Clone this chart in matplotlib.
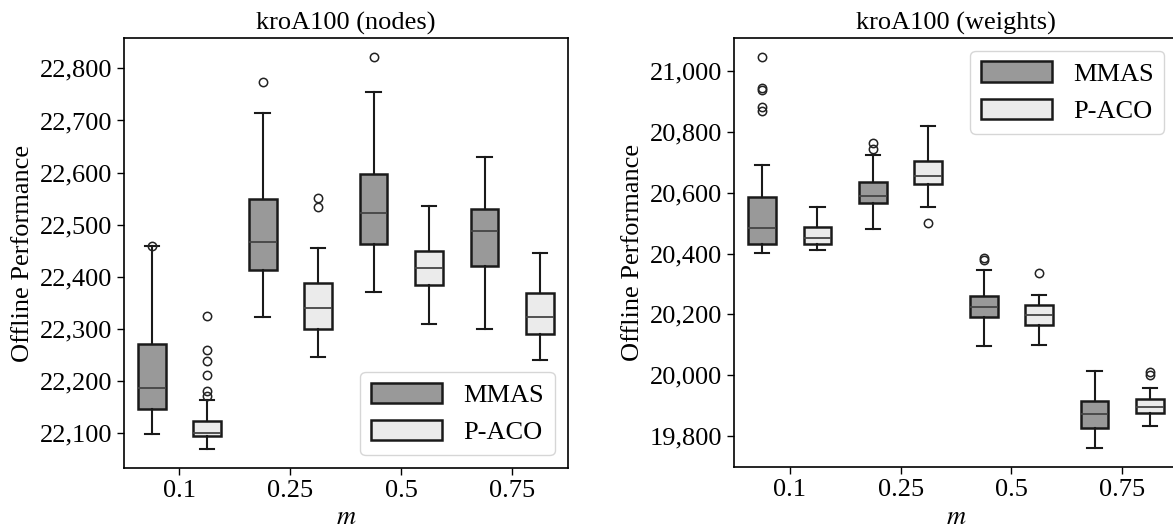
import numpy as np
import matplotlib.pyplot as plt
from matplotlib.patches import Patch

plt.rcParams['font.family'] = ['Liberation Serif', 'DejaVu Serif']
plt.rcParams['mathtext.fontset'] = 'stix'

# m values on the x axis
m_labels = ['0.1', '0.25', '0.5', '0.75']
algorithms = ['MMAS', 'P-ACO']

# box statistics per m: whisker low, q1, median, q3, whisker high
nodes_mmas_wlo = [22099, 22323, 22371, 22300]
nodes_mmas_q1 = [22147, 22413, 22463, 22420]
nodes_mmas_med = [22186, 22467, 22522, 22488]
nodes_mmas_q3 = [22271, 22550, 22598, 22530]
nodes_mmas_whi = [22460, 22715, 22754, 22630]
nodes_mmas_fliers = [[22460], [22774], [22821], []]

nodes_paco_wlo = [22070, 22246, 22310, 22240]
nodes_paco_q1 = [22094, 22300, 22385, 22290]
nodes_paco_med = [22101, 22340, 22417, 22323]
nodes_paco_q3 = [22124, 22389, 22450, 22368]
nodes_paco_whi = [22163, 22455, 22535, 22446]
nodes_paco_fliers = [[22325, 22260, 22238, 22212, 22180, 22172], [22551, 22534], [], []]

weights_mmas_wlo = [20402, 20481, 20095, 19762]
weights_mmas_q1 = [20433, 20567, 20191, 19827]
weights_mmas_med = [20484, 20589, 20224, 19873]
weights_mmas_q3 = [20585, 20635, 20261, 19914]
weights_mmas_whi = [20690, 20724, 20345, 20013]
weights_mmas_fliers = [[21047, 20946, 20938, 20881, 20869], [20763, 20744], [20385, 20378], []]

weights_paco_wlo = [20411, 20552, 20098, 19833]
weights_paco_q1 = [20433, 20629, 20166, 19877]
weights_paco_med = [20452, 20655, 20198, 19896]
weights_paco_q3 = [20487, 20706, 20232, 19922]
weights_paco_whi = [20552, 20821, 20264, 19959]
weights_paco_fliers = [[], [20502], [20337], [20012, 20000]]

COLORS = {'MMAS': '#999999', 'P-ACO': '#ebebeb'}
EDGE = '#1a1a1a'
FS = 19


def make_stats(wlo, q1, med, q3, whi, fliers):
    return [dict(whislo=a, q1=b, med=c, q3=d, whishi=e, fliers=f)
            for a, b, c, d, e, f in zip(wlo, q1, med, q3, whi, fliers)]


def draw_panel(ax, groups, title, ylim, yticks):
    x = np.arange(len(m_labels))
    for (name, stats), off in zip(groups, (-0.25, 0.25)):
        ax.bxp(stats, positions=x + off, widths=0.25, patch_artist=True,
               capwidths=0.13, manage_ticks=False,
               boxprops=dict(facecolor=COLORS[name], edgecolor=EDGE, linewidth=1.8),
               whiskerprops=dict(color=EDGE, linewidth=1.5),
               capprops=dict(color=EDGE, linewidth=1.5),
               medianprops=dict(color='#444444', linewidth=1.3),
               flierprops=dict(marker='o', markersize=6, markerfacecolor='none',
                               markeredgecolor='#222222', markeredgewidth=1.1))
    ax.set_xlim(-0.5, 3.5)
    ax.set_xticks(x)
    ax.set_xticklabels(m_labels)
    ax.set_ylim(*ylim)
    ax.set_yticks(yticks)
    ax.set_yticklabels([f'{v:,}' for v in yticks])
    ax.tick_params(labelsize=FS, length=5, width=1)
    ax.set_xlabel('$m$', fontsize=FS)
    ax.set_ylabel('Offline Performance', fontsize=FS)
    ax.set_title(title, fontsize=FS)
    for s in ax.spines.values():
        s.set_linewidth(1.2)


fig = plt.figure(figsize=(11.73, 5.3), dpi=100)
ax1 = fig.add_axes([0.1057, 0.117, 0.3783, 0.811])
ax2 = fig.add_axes([0.626, 0.118, 0.378, 0.811])

draw_panel(ax1,
           [('MMAS', make_stats(nodes_mmas_wlo, nodes_mmas_q1, nodes_mmas_med,
                                nodes_mmas_q3, nodes_mmas_whi, nodes_mmas_fliers)),
            ('P-ACO', make_stats(nodes_paco_wlo, nodes_paco_q1, nodes_paco_med,
                                 nodes_paco_q3, nodes_paco_whi, nodes_paco_fliers))],
           'kroA100 (nodes)', (22033, 22858), list(range(22100, 22801, 100)))
draw_panel(ax2,
           [('MMAS', make_stats(weights_mmas_wlo, weights_mmas_q1, weights_mmas_med,
                                weights_mmas_q3, weights_mmas_whi, weights_mmas_fliers)),
            ('P-ACO', make_stats(weights_paco_wlo, weights_paco_q1, weights_paco_med,
                                 weights_paco_q3, weights_paco_whi, weights_paco_fliers))],
           'kroA100 (weights)', (19697, 21110), list(range(19800, 21001, 200)))

handles = [Patch(facecolor=COLORS[a], edgecolor=EDGE, linewidth=1.8) for a in algorithms]
ax1.legend(handles, algorithms, loc='lower right', fontsize=FS,
           handlelength=2.7, handleheight=0.8)
ax2.legend(handles, algorithms, loc='upper right', fontsize=FS,
           handlelength=2.7, handleheight=0.8)

fig.savefig('out.png', dpi=100)
